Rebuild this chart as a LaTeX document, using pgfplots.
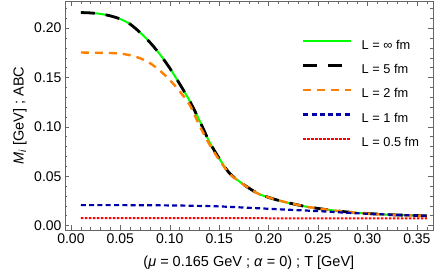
\documentclass[border=0pt]{standalone}
\usepackage{fontspec}
\setmainfont{Liberation Sans}
\usepackage{pgfplots}
\pgfplotsset{compat=1.18}
\definecolor{mgreen}{rgb}{0,1,0}
\definecolor{morange}{rgb}{1,0.5,0}
\definecolor{mblue}{rgb}{0,0,0.67}
\definecolor{mred}{rgb}{1,0,0}
\begin{document}
\begin{tikzpicture}
\begin{axis}[
  scale only axis,
  width=367.7pt, height=228.5pt,
  xmin=-0.006, xmax=0.366,
  ymin=-0.0045, ymax=0.227,
  xtick={0,0.05,0.1,0.15,0.2,0.25,0.3,0.35},
  ytick={0,0.05,0.1,0.15,0.2},
  minor xtick={0.01,0.02,0.03,0.04,0.06,0.07,0.08,0.09,0.11,0.12,0.13,0.14,0.16,0.17,0.18,0.19,0.21,0.22,0.23,0.24,0.26,0.27,0.28,0.29,0.31,0.32,0.33,0.34,0.36},
  minor ytick={0.01,0.02,0.03,0.04,0.06,0.07,0.08,0.09,0.11,0.12,0.13,0.14,0.16,0.17,0.18,0.19,0.21,0.22},
  tick align=inside,
  major tick length=4.5pt, minor tick length=2.5pt,
  axis line style={black!60},
  every tick/.style={black!60, line width=0.5pt},
  /pgf/number format/assume math mode=true,
  xticklabel style={/pgf/number format/fixed, /pgf/number format/fixed zerofill, /pgf/number format/precision=2},
  yticklabel style={/pgf/number format/fixed, /pgf/number format/fixed zerofill, /pgf/number format/precision=2},
  tick label style={font=\fontsize{14}{16}\selectfont},
  label style={font=\fontsize{14.5}{17}\selectfont},
  xlabel={(\textit{μ} = 0.165 GeV ; \textit{α} = 0) ; T [GeV]},
  ylabel={\textit{M}\textsubscript{\textit{i}} [GeV] ; ABC},
  xlabel style={at={(axis description cs:0.5,-0.145)}, anchor=center},
  ylabel style={at={(axis description cs:-0.1224,0.5)}, anchor=center},
  legend cell align=left,
  legend style={draw=none, fill=none, inner sep=0pt,
    at={(rel axis cs:0.6437,0.836)}, anchor=north west,
    font=\fontsize{12.8}{15}\selectfont,
    row sep=11.4pt, column sep=9pt,
    nodes={inner sep=0pt, text height=10pt, text depth=3pt}},
  legend image code/.code={\draw[#1] (0pt,4.3pt) -- (48pt,4.3pt);},
]
\coordinate (SW) at (rel axis cs:0,0);
\coordinate (NE) at (rel axis cs:1,1);
% L = infinity
\addplot[mgreen, line width=2pt, smooth] coordinates {
(0.01,0.2158) (0.02,0.2154) (0.03,0.2144) (0.04,0.2124) (0.05,0.2092) (0.06,0.2040) (0.07,0.1955) (0.08,0.1855) (0.09,0.1735) (0.10,0.1595) (0.11,0.1435) (0.12,0.1265) (0.13,0.1065) (0.14,0.0850) (0.15,0.0680) (0.16,0.0535) (0.17,0.0450) (0.18,0.0380) (0.19,0.0320) (0.20,0.0285) (0.21,0.0255) (0.22,0.0230) (0.23,0.0208) (0.24,0.0188) (0.26,0.0160) (0.28,0.0137) (0.30,0.0122) (0.32,0.0111) (0.34,0.0104) (0.36,0.0098)};
\addlegendentry{L = ∞ fm}
% L = 5
\addplot[black, line width=2.8pt, dash pattern=on 14pt off 11pt, smooth] coordinates {
(0.01,0.2158) (0.02,0.2154) (0.03,0.2144) (0.04,0.2124) (0.05,0.2092) (0.06,0.2040) (0.07,0.1955) (0.08,0.1855) (0.09,0.1735) (0.10,0.1595) (0.11,0.1435) (0.12,0.1265) (0.13,0.1065) (0.14,0.0850) (0.15,0.0680) (0.16,0.0535) (0.17,0.0450) (0.18,0.0380) (0.19,0.0320) (0.20,0.0285) (0.21,0.0255) (0.22,0.0230) (0.23,0.0208) (0.24,0.0188) (0.26,0.0160) (0.28,0.0137) (0.30,0.0122) (0.32,0.0111) (0.34,0.0104) (0.36,0.0098)};
\addlegendentry{L = 5 fm}
% L = 2
\addplot[morange, line width=2.4pt, dash pattern=on 8pt off 6pt, smooth] coordinates {
(0.01,0.1753) (0.02,0.1752) (0.03,0.1750) (0.04,0.1748) (0.05,0.1742) (0.06,0.1725) (0.07,0.1695) (0.08,0.1645) (0.09,0.1570) (0.10,0.1475) (0.11,0.1360) (0.12,0.1225) (0.13,0.1015) (0.14,0.0825) (0.15,0.0665) (0.16,0.0530) (0.17,0.0448) (0.18,0.0379) (0.19,0.0320) (0.20,0.0285) (0.21,0.0255) (0.22,0.0230) (0.23,0.0208) (0.24,0.0188) (0.26,0.0160) (0.28,0.0137) (0.30,0.0122) (0.32,0.0111) (0.34,0.0104) (0.36,0.0098)};
\addlegendentry{L = 2 fm}
% L = 1
\addplot[mblue, line width=2.2pt, dash pattern=on 5pt off 3.3pt, smooth] coordinates {
(0.01,0.0207) (0.05,0.0207) (0.10,0.0204) (0.125,0.0200) (0.15,0.0194) (0.18,0.0180) (0.21,0.0165) (0.24,0.0151) (0.26,0.0141) (0.29,0.0124) (0.33,0.0108) (0.36,0.0098)};
\addlegendentry{L = 1 fm}
% L = 0.5
\addplot[mred, line width=2pt, dash pattern=on 2.5pt off 1.5pt] coordinates {
(0.01,0.0075) (0.10,0.0075) (0.20,0.0074) (0.30,0.0073) (0.36,0.0072)};
\addlegendentry{L = 0.5 fm}
\end{axis}
\pgfresetboundingbox
\path[use as bounding box] ([shift={(-65pt,-50pt)}]SW) rectangle ([shift={(3.3pt,1.5pt)}]NE);
\end{tikzpicture}
\end{document}
